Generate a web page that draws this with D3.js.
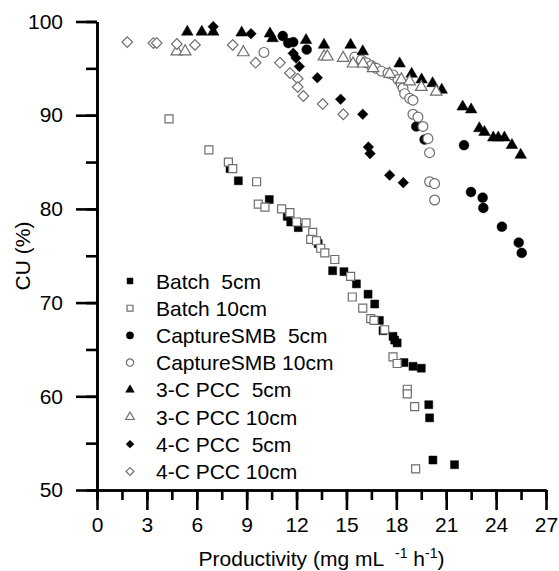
<!DOCTYPE html>
<html>
<head>
<meta charset="utf-8">
<script src="https://cdn.jsdelivr.net/npm/d3@7"></script>
<style>
body { margin: 0; background: #fff; }
svg text { font-family: Arial, "Liberation Sans", sans-serif; fill: #000; }
</style>
</head>
<body>
<svg class="chart" width="559" height="571"></svg>
<script>
// values: [productivity, CU %]
var batch5 = [[8.0,84.3],[8.5,83.0],[10.36,81.0],[11.44,79.2],[11.65,78.6],[12.1,78.0],[13.3,76.3],
	[14.17,73.4],[14.85,73.3],[15.6,72.0],[16.3,70.9],[16.7,69.85],[16.98,68.1],[17.2,67.0],[17.8,66.4],
	[17.9,66.0],[18.05,65.7],[18.46,63.6],[19.0,63.2],[19.5,63.0],[19.95,59.1],[20.0,57.7],[20.2,53.2],[21.5,52.7]];
var batch10 = [[4.33,89.6],[6.73,86.3],[7.9,85.0],[8.16,84.3],[9.6,82.9],[9.7,80.5],[10.1,80.2],[11.1,80.0],
	[11.6,79.6],[12.0,78.6],[12.57,78.5],[12.97,77.5],[12.85,76.75],[13.2,76.6],[13.45,75.8],[13.7,75.3],
	[14.3,74.6],[15.25,72.8],[15.35,70.6],[15.98,69.4],[16.46,68.3],[16.66,68.1],[17.3,67.1],[17.8,64.2],
	[18.05,63.5],[18.66,60.75],[18.66,60.25],[19.1,58.9],[19.16,52.25]];
var smb5 = [[11.17,98.45],[11.5,97.7],[11.8,97.8],[12.61,97.0],[19.2,88.8],[19.7,87.4],[22.07,86.8],
	[22.49,81.8],[23.19,81.2],[23.23,80.1],[24.35,78.1],[25.36,76.4],[25.54,75.3]];
var smb10 = [[10.04,96.7],[15.5,96.2],[15.9,95.9],[16.2,95.6],[16.5,95.3],[16.8,95.0],[17.1,94.7],[17.5,94.5],
	[17.8,94.3],[18.1,93.8],[18.3,93.3],[18.4,92.9],[18.5,92.3],[18.8,91.8],[19.0,91.6],[19.0,90.1],
	[19.3,89.8],[19.6,88.8],[19.9,87.5],[20.0,86.0],[20.0,82.9],[20.3,82.7],[20.3,80.95]];
var pcc3_5 = [[5.43,98.9],[6.3,98.9],[6.99,98.9],[8.7,98.8],[10.4,98.7],[10.56,98.2],[12.57,98.0],[13.65,97.5],
	[15.25,97.5],[15.98,96.8],[18.2,95.5],[18.92,94.4],[19.52,93.8],[20.18,93.4],[20.73,92.7],[21.99,90.9],
	[22.5,90.6],[22.99,88.6],[23.3,88.2],[23.83,87.6],[24.13,87.6],[24.5,87.6],[24.95,86.8],[25.48,85.75]];
var pcc3_10 = [[4.8,96.8],[5.3,96.8],[8.8,96.7],[13.65,96.25],[13.85,96.25],[14.8,96.1],[15.4,95.5],
	[16.0,95.5],[16.6,95.0],[17.6,94.4],[18.3,93.8],[18.8,93.6],[19.5,93.0],[20.4,92.5]];
var pcc4_5 = [[6.99,99.45],[9.26,98.7],[11.8,96.6],[11.97,96.1],[12.17,95.2],[13.25,94.0],[14.65,91.7],
	[15.98,90.1],[16.32,86.6],[16.42,85.9],[17.6,83.6],[18.42,82.8]];
var pcc4_10 = [[1.82,97.8],[3.39,97.7],[3.59,97.7],[4.8,97.6],[5.89,97.5],[8.16,97.5],[9.54,95.6],[11.0,95.6],
	[11.6,94.5],[12.07,93.9],[12.07,93.0],[12.41,92.05],[13.57,91.2],[14.81,90.1]];

var seriesNames = ['Batch  5cm', 'Batch 10cm', 'CaptureSMB  5cm', 'CaptureSMB 10cm',
	'3-C PCC  5cm', '3-C PCC 10cm', '4-C PCC  5cm', '4-C PCC 10cm'];
var seriesData = [batch5, batch10, smb5, smb10, pcc3_5, pcc3_10, pcc4_5, pcc4_10];
var seriesShape = ['square', 'square', 'circle', 'circle', 'triangle', 'triangle', 'diamond', 'diamond'];
var seriesFilled = [true, false, true, false, true, false, true, false];

var xMajor = d3.range(0, 28, 3),
	xMinor = d3.range(0, 27.1, 1.5),
	yMajor = d3.range(50, 101, 10),
	yMinor = d3.range(50, 101, 5);

var svg = d3.select('svg.chart');

var x = d3.scaleLinear().domain([0, 27]).range([97, 546]);
var y = d3.scaleLinear().domain([50, 100]).range([490, 21.5]);

var sizes = {square: 64, circle: 76, triangle: 58, diamond: 56};
var types = {square: d3.symbolSquare, circle: d3.symbolCircle, triangle: d3.symbolTriangle, diamond: d3.symbolSquare};

function marker(sel, shape, filled, scale) {
	sel.attr('d', d3.symbol(types[shape], sizes[shape] * scale)())
		.attr('fill', filled ? '#000' : '#fff')
		.attr('stroke', filled ? '#000' : '#6e6e6e')
		.attr('stroke-width', filled ? 0.5 : 1.2);
}

// axes
var xAxisMinor = d3.axisBottom(x).tickValues(xMinor).tickSize(10).tickSizeOuter(0).tickFormat('');
var xAxisMajor = d3.axisBottom(x).tickValues(xMajor).tickSize(20).tickSizeOuter(0).tickPadding(7);
var yAxisMinor = d3.axisLeft(y).tickValues(yMinor).tickSize(11).tickSizeOuter(0).tickFormat('');
var yAxisMajor = d3.axisLeft(y).tickValues(yMajor).tickSize(21).tickSizeOuter(0).tickPadding(13);

[[xAxisMinor, 'x'], [xAxisMajor, 'x'], [yAxisMinor, 'y'], [yAxisMajor, 'y']].forEach(function(a) {
	var g = svg.append('g')
		.attr('transform', a[1] == 'x' ? 'translate(0,490)' : 'translate(97,0)')
		.call(a[0]);
	g.selectAll('path, line').attr('stroke', '#000').attr('stroke-width', 2.6);
	g.selectAll('text').attr('font-size', 21).attr('font-family', 'Arial, "Liberation Sans", sans-serif');
});

// points
seriesData.forEach(function(data, i) {
	svg.append('g').selectAll('path')
		.data(data)
		.enter()
			.append('path')
			.attr('transform', function(d) {
				return 'translate(' + x(d[0]) + ',' + y(d[1]) + ')' + (seriesShape[i] == 'diamond' ? ' rotate(45)' : '');
			})
			.call(marker, seriesShape[i], seriesFilled[i], 1);
});

// legend
var legend = svg.append('g');
seriesNames.forEach(function(name, i) {
	var ly = 281 + i * 27.2;
	legend.append('path')
		.attr('transform', 'translate(130,' + ly + ')' + (seriesShape[i] == 'diamond' ? ' rotate(45)' : ''))
		.call(marker, seriesShape[i], seriesFilled[i], 0.55);
	legend.append('text')
		.attr('x', 156)
		.attr('y', ly)
		.attr('dy', '0.36em')
		.attr('font-size', 21)
		.style('white-space', 'pre')
		.text(name);
});

// axis titles
svg.append('text')
	.attr('transform', 'translate(30,256) rotate(-90)')
	.attr('text-anchor', 'middle')
	.attr('font-size', 21)
	.text('CU (%)');

var xt = svg.append('text')
	.attr('x', 321.5)
	.attr('y', 566)
	.attr('text-anchor', 'middle')
	.attr('font-size', 21)
	.style('white-space', 'pre');
xt.append('tspan').text('Productivity (mg mL  ');
xt.append('tspan').attr('font-size', 14).attr('dy', -8).text('-1');
xt.append('tspan').attr('dy', 8).text(' h');
xt.append('tspan').attr('font-size', 14).attr('dy', -8).text('-1');
xt.append('tspan').attr('dy', 8).text(')');
</script>
</body>
</html>
